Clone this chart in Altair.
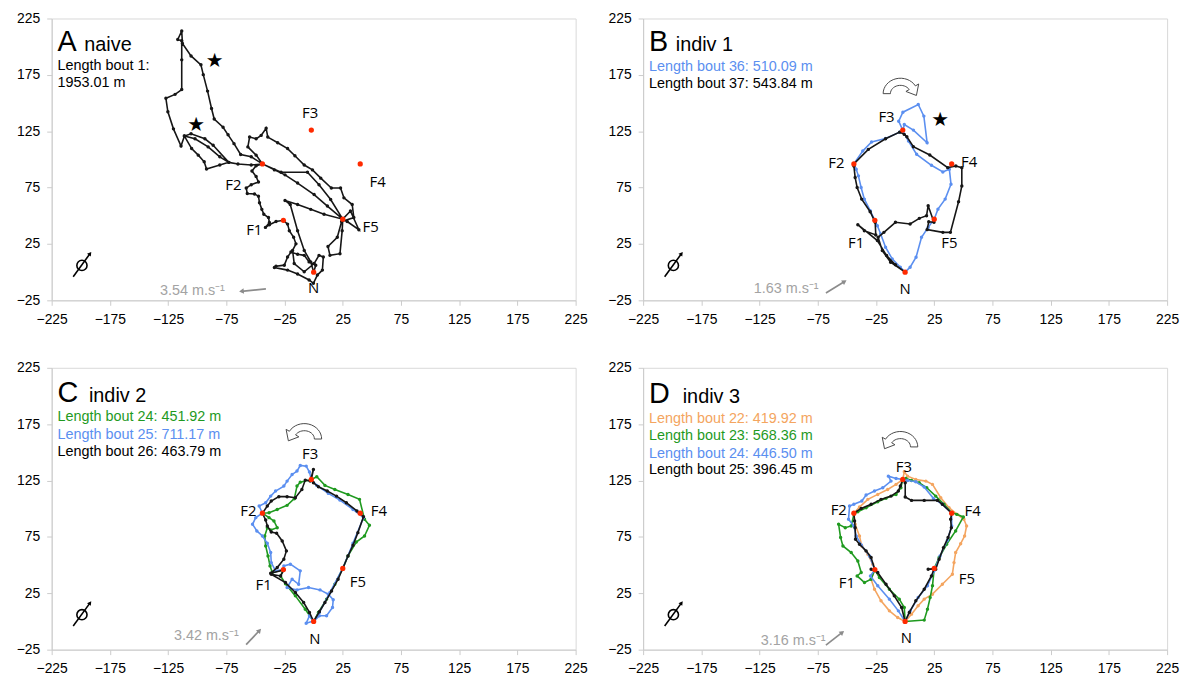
import altair as alt
import pandas as pd

# ---------------- data (metres) ----------------
FEEDER_NAMES = ["N", "F1", "F2", "F3", "F4", "F5"]
FEEDER_X = [0, -26, -44, -2, 40, 25]
FEEDER_Y = [0, 46, 96, 126, 96, 47]

A_BOUT1 = [(0,0),(1.8,6.2),(-3.9,9.1),(-8.1,14.9),(-13.8,15.8),(-19.5,17.8),(-22.4,13.4),(-25.2,6.2),(-32.3,5.3),(-33.7,4.1),(-22.4,1.8),(-13.8,-1.7),(-3.9,-6.9),(-0.2,-9.9),(3.2,-2.6),(7.5,1.8),(8.3,13.4),(4.6,14.9),(0.4,7.6),(-8.1,0.3),(-16.7,7.6),(-18.1,19.3),(-15.2,25.1),(-17.2,30.9),(-20.9,36.8),(-22.4,42.6),(-26,46),(-32.3,44.9),(-38,42),(-41.4,39.7),(-38,44),(-38.8,48.4),(-42.8,51.3),(-44.5,55.7),(-46.5,61.5),(-47.4,67.4),(-50.8,69.4),(-57,69.7),(-57.9,74.6),(-53.6,77.6),(-47.4,79.9),(-49.4,84.8),(-53,89.8),(-49.4,94.4),(-44,96),(-53.6,95),(-65,95.9),(-72.9,97.4),(-80.6,95),(-92,91.5),(-94,97.9),(-99.1,103.8),(-104.8,109.6),(-111,120.7),(-101.9,118.3),(-90.6,111.1),(-80.6,102.3),(-72.9,97.4),(-86.3,112.5),(-93.4,118.3),(-105.3,122.7),(-111,120.7),(-113.9,111.9),(-120.4,127.1),(-125.2,142.2),(-126.9,154.2),(-119,157.7),(-113.3,162),(-113.3,188.3),(-113.3,205.2),(-116.7,206.4),(-113.3,213.9),(-112.7,202.9),(-105.3,191.8),(-96.8,183.9),(-94.8,175.2),(-91.1,160.6),(-87.7,145.2),(-85.4,135.8),(-77.8,128.5),(-73.5,121.8),(-68.4,114),(-62.7,104.4),(-53.6,102.3),(-44,96),(-33.7,90.7),(-24.6,86.3),(-13.8,79),(0.4,68.8),(11.8,58.6),(25,47),(24.5,36.8),(22.6,16.4),(14,14.9),(12.3,22.8),(20.3,30.9),(24,44.9),(34.5,48.4),(33.1,60),(26,65.9),(23.1,74.6),(15.2,74.6),(6.1,83.4),(-1,90.7),(-8.1,95),(-16.1,103.2),(-22.4,109.6),(-30.9,114.8),(-39.4,119.8),(-40.8,127.7),(-45.1,121.3),(-49.4,118.3),(-55,119.8),(-56.5,111.1),(-49.4,103.8),(-44,96),(-28,88.6),(-5.3,88.6),(4.6,77.6),(14.6,64.4),(25,47),(28.8,44.9),(38.8,37.6),(31.6,54.2),(25,47),(8.9,51.3),(-2.5,55.7),(-13.8,60),(-24.6,63.6),(-20.1,60),(-13.8,36.8),(-8.1,19.3),(-2.5,9.1),(0,0)]

B_BOUT36 = [(0,0),(-4.1,4.4),(-11.1,11.8),(-16.8,22.1),(-21,33.9),(-23.8,41.2),(-26,46),(-30,54.5),(-35,64.8),(-37.8,75.1),(-40.1,85.4),(-42,91.3),(-44,96),(-36.4,107.4),(-28.8,115.4),(-16.8,118.6),(-4.7,124.2),(-2,126),(-5.5,133.9),(-1.9,141.9),(11.3,148.7),(16.1,138.4),(18.9,114.8),(7.1,126),(-0.7,131),(-1.9,125.1),(2.9,116.3),(9.9,104.5),(22.6,94.8),(32.4,88.9),(38,91.3),(39.4,78),(34.4,64.8),(28.2,55.9),(25,47),(19.8,39.7),(14.1,30.9),(9.4,13.2),(4.3,4.4),(0,0)]
B_BOUT37 = [(0,0),(-8.3,6.5),(-15.9,14.7),(-23.8,28),(-40.6,42.1),(-35,36.8),(-25.2,33),(-25.7,44.2),(-30,53.6),(-37.3,64.8),(-41.2,75.1),(-42.9,83.9),(-44,94.2),(-44,96),(-31.6,108.9),(-16.8,118.3),(-4.7,124.2),(-0.7,122.2),(1.5,120.1),(7.1,111.3),(21.2,103.9),(36.6,92.7),(43.6,94.2),(48.7,92.7),(48.7,76.5),(45.9,62.4),(38.9,35.3),(32.4,35.3),(18.9,37.7),(20.3,44.7),(24.8,44.2),(19.8,58.9),(18.4,50),(12.2,47.7),(4.3,42.7),(-8.3,44.2),(-18.2,35.3),(-23.2,30.9),(-19.6,19.1),(-12.5,8.8),(0,0)]

C_BOUT24 = [(0,0),(4.1,8),(11.1,19.8),(18.2,33),(25,47),(29.5,58.1),(36.6,70.5),(43.7,75.8),(47.9,85.3),(43.7,90.6),(39.4,108.3),(29.5,112.7),(18.2,117.1),(9.7,120.7),(2.7,128.4),(-2,126),(-11.5,123.6),(-14.3,120.1),(-16.6,108.9),(-22.8,103),(-31.3,99.4),(-38.3,96.5),(-44,96),(-38.3,92.1),(-34.1,89.1),(-31.3,83.2),(-36.9,81.1),(-39.8,83.2),(-42,75.8),(-41.2,67),(-39.2,58.1),(-37.5,49.3),(-35.5,43.4),(-26,46),(-28.4,40.4),(-24.2,33.5),(-15.7,22.7),(-7.2,10.9),(0,0)]
C_BOUT25 = [(0,0),(4.9,8),(14,25.7),(25,47),(33.8,69.3),(42.8,92.1),(33.8,99.4),(22.5,107.7),(12.6,113.6),(2.7,120.7),(-2,126),(-3.6,132.5),(-6.4,137.8),(-11.5,138.4),(-14.3,133.4),(-18.5,130.4),(-22.8,124.5),(-25.6,120.1),(-32.7,115.7),(-36.9,111.2),(-41.2,105.3),(-46.8,102.4),(-44,96),(-49.7,92.1),(-52.5,86.2),(-48.8,80.3),(-44,75.8),(-39.8,69.3),(-36.9,61.1),(-36.4,52.2),(-32.7,44.9),(-26,46),(-25.6,49.3),(-20,50.8),(-11.5,44.9),(-12.9,33),(-18.5,37.5),(-22.8,30.1),(-14.3,28),(-4.4,30.1),(5.5,28),(12.6,24.2),(16.8,19.2),(16.2,12.4),(11.1,5),(4.9,5),(0.4,0.6),(-6.4,-1.5),(-3.6,5),(0,0)]
C_BOUT26 = [(0,0),(4.9,8.6),(9.7,16.8),(15.4,27.1),(21,37.5),(25,47),(29.5,58.1),(33.8,67.6),(38,78.8),(42.8,92.9),(37.2,98),(28.1,105.3),(19.6,111.2),(11.7,115.7),(4.1,119.5),(-0.2,123),(-2,126),(-0.2,134.8),(-3,124.5),(-7.2,125.4),(-10.1,117.1),(-15.7,109.8),(-22.8,110.7),(-29.9,110.7),(-36.4,106.8),(-39.8,102.4),(-44,96),(-41.2,90),(-39.8,84.7),(-36.4,79.4),(-31.8,78.2),(-27,71.4),(-23.4,62.6),(-25.6,55.2),(-31.3,47.8),(-36.9,42.8),(-25.6,45.7),(-28.4,40.4),(-36.4,41.9),(-24.2,34.5),(-15.7,25.7),(-8.6,16.8),(-3.6,8),(0,0)]

D_BOUT22 = [(0,0),(5.5,6.5),(11.2,13.9),(16.4,19.8),(23.5,24.2),(32,33),(40.6,41.9),(42,52.2),(43.4,61.1),(47.7,69),(51.1,75.8),(52.8,84.7),(50.5,90.6),(44.8,95),(37.7,100.9),(30.6,109.8),(23.5,121.6),(17.8,124.5),(9.2,126),(2.1,128.9),(-0.7,132.8),(-2,126),(-7.8,121.6),(-15,117.1),(-23.5,112.7),(-32,108.3),(-39.2,101.5),(-44,96),(-42.9,86.2),(-39.2,75.8),(-37.2,67),(-32,59.6),(-27.8,50.8),(-26,46),(-29.2,37.5),(-26.3,28.6),(-20.7,18.3),(-13.5,9.4),(-6.4,3.5),(0,0)]
D_BOUT23 = [(0,0),(16.4,1.2),(19.2,10.9),(21.5,21.2),(23.5,31.6),(25,47),(29.2,56.7),(35.7,68.5),(43.4,80.3),(50,92.7),(44.3,95),(40,96.5),(33.4,103.9),(26.3,111.2),(18.6,118.6),(12.1,123),(5.5,125.1),(0.7,126.9),(-2,126),(-3.6,118.6),(-7.8,112.7),(-16.4,109.2),(-23.5,106.2),(-33.5,100.9),(-40.6,97.4),(-44,95),(-46.3,84.7),(-51.4,83.2),(-57.1,86.2),(-55.4,74.4),(-53.4,67),(-46.3,61.1),(-40.6,53.7),(-37.7,43.4),(-41.2,40.4),(-34.9,34.5),(-29.2,37.5),(-26,46),(-22.1,38.9),(-13.5,28.6),(-5,19.8),(-0.7,12.4),(0,0)]
D_BOUT24 = [(0,0),(4.4,9.4),(11.2,21.2),(19.2,31.6),(24.9,44.9),(30,58.1),(36.3,72),(40,84.7),(40,96),(32,103.9),(24.3,109.2),(16.4,119.2),(9.2,123.9),(2.1,125.1),(-2,126),(-7.8,126.9),(-14.4,128.9),(-12.1,124.5),(-19.2,118.6),(-26.3,115.7),(-33.5,112.1),(-37.2,106.8),(-44,103.9),(-47.7,102.4),(-48.6,90.6),(-44,84.7),(-42,75.8),(-37.7,67.9),(-30.6,58.1),(-26,46),(-29.8,40.4),(-23.5,31.6),(-13.5,19.8),(-5.8,9.4),(0,0)]
D_BOUT25 = [(0,0),(3.6,8),(9.2,18.3),(16.4,28.6),(22.6,40.4),(25,47),(19.8,46.3),(26.3,46.3),(29.2,55.2),(32.9,65.5),(36.9,74.4),(39.7,83.2),(39.1,90.6),(40,96),(32,103.9),(27.8,107.4),(16.4,107.4),(5.5,107.4),(0.1,110.4),(0.1,123),(-2,126),(-4.1,120.1),(-5.8,115.7),(-12.1,111.2),(-20.7,108.3),(-29.2,103.9),(-37.7,100.3),(-44,96),(-43.4,89.1),(-42.9,83.2),(-42.6,72.9),(-39.2,68.5),(-33.5,62.6),(-29.2,56.7),(-26,46),(-29.2,46.3),(-23.5,43.4),(-16.4,33),(-9.3,22.7),(-3,12.4),(0,0)]

# feeder label positions per panel (x, y)
LABELS_A = [(0,-14),(-51,37),(-69,77),(-3,141),(55,80),(49,40)]
LABELS_B = [(0,-15),(-42,26),(-59,97),(-16,138),(55,98),(38,26)]
LABELS_C = [(1,-15.5),(-43,32),(-56,98),(-3,148.5),(56,98),(38,35)]
LABELS_D = [(1,-14.5),(-50,34),(-57,99),(-1,137),(58,98),(53,38)]

STARS_A = [(-85,187.5),(-101,130.5)]
STARS_B = [(30,134.5)]

X_TICKS = [-225, -175, -125, -75, -25, 25, 75, 125, 175, 225]
Y_TICKS = [-25, 25, 75, 125, 175, 225]

BLACK = "#161616"
BLUE = "#5b8ff0"
GREEN = "#1f9a1f"
ORANGE = "#f4a560"
RED = "#ff2a00"
GREY = "#a3a3a3"

# hollow curved-arrow symbols (shape styles, unit box -1..1)
CURL_CW = ("M -0.95 0.35 A 0.95 0.85 0 0 1 0.82 -0.075 L 1.0 -0.18 L 0.875 0.45 "
           "L 0.3 0.23 L 0.48 0.125 A 0.55 0.45 0 0 0 -0.55 0.35 Z")
CURL_CCW = ("M 0.95 0.35 A 0.95 0.85 0 0 0 -0.82 -0.075 L -1.0 -0.18 L -0.875 0.45 "
            "L -0.3 0.23 L -0.48 0.125 A 0.55 0.45 0 0 1 0.55 0.35 Z")

X = alt.X("x:Q", scale=alt.Scale(domain=[-225, 225], nice=False, zero=False),
          axis=alt.Axis(values=X_TICKS, format="d", labelFlush=False), title=None)
Y = alt.Y("y:Q", scale=alt.Scale(domain=[-25, 225], nice=False, zero=False),
          axis=alt.Axis(values=Y_TICKS, format="d", labelFlush=False), title=None)


def frame(rows, cols):
    return pd.DataFrame(rows, columns=cols)


def track(seq, color):
    df = pd.DataFrame({"x": [p[0] for p in seq], "y": [p[1] for p in seq],
                       "i": list(range(len(seq)))})
    line = alt.Chart(df).mark_line(color=color, strokeWidth=1.6).encode(x=X, y=Y, order="i:Q")
    dots = alt.Chart(df).mark_circle(color=color, size=12, opacity=1).encode(x=X, y=Y)
    return [line, dots]


def text_layer(rows, **kw):
    df = frame(rows, ["x", "y", "t", "c"])
    return alt.Chart(df).mark_text(**kw).encode(
        x=X, y=Y, text="t:N", color=alt.Color("c:N", scale=None))


def arrow(x1, y1, x2, y2, ang, color, width, head):
    df = frame([(x1, y1, x2, y2)], ["x", "y", "x2", "y2"])
    rule = alt.Chart(df).mark_rule(color=color, strokeWidth=width).encode(
        x=X, y=Y, x2="x2:Q", y2="y2:Q")
    tip = alt.Chart(frame([(x2, y2)], ["x", "y"])).mark_point(
        shape="triangle-up", filled=True, color=color, size=head, angle=ang, opacity=1
    ).encode(x=X, y=Y)
    return [rule, tip]


def panel(letter, rest, rest_x, title_y, lines, series, labels, stars, curl, wind):
    layers = []
    # male / orientation symbol
    layers.append(alt.Chart(frame([(-199, 6)], ["x", "y"])).mark_point(
        shape="circle", filled=False, color="black", size=105, strokeWidth=1.6, opacity=1
    ).encode(x=X, y=Y))
    layers += arrow(-206.5, -4, -192, 16.5, 36, "black", 1.6, 22)
    # wind arrow and speed text
    wtext, wx, wy, ax1, ay1, ax2, ay2, ang = wind
    layers.append(text_layer([(wx, wy, wtext, GREY)], align="left", baseline="middle",
                             font="Liberation Sans", fontSize=14.5))
    layers += arrow(ax1, ay1, ax2, ay2, ang, "#8c8c8c", 1.7, 30)
    # trajectories
    for seq, color in series:
        layers += track(seq, color)
    # feeders
    fdf = pd.DataFrame({"x": FEEDER_X, "y": FEEDER_Y})
    layers.append(alt.Chart(fdf).mark_circle(color=RED, size=28, opacity=1).encode(x=X, y=Y))
    layers.append(text_layer([(p[0], p[1], n, "black") for p, n in zip(labels, FEEDER_NAMES)],
                             align="center", baseline="middle", font="Open Sans", fontSize=15))
    if stars:
        layers.append(text_layer([(s[0], s[1], "★", "black") for s in stars],
                                 align="center", baseline="middle", font="DejaVu Sans",
                                 fontSize=20))
    if curl:
        cx, cy, shape = curl
        layers.append(alt.Chart(frame([(cx, cy)], ["x", "y"])).mark_point(
            shape=shape, fill="white", stroke="#4a4a4a", strokeWidth=1.0,
            size=1350, opacity=1, fillOpacity=1
        ).encode(x=X, y=Y))
    # titles and lengths
    layers.append(text_layer([(-220, title_y, letter, "black")], align="left",
                             baseline="alphabetic", font="Liberation Sans", fontSize=29))
    layers.append(text_layer([(rest_x, title_y, rest, "black")], align="left",
                             baseline="alphabetic", font="Liberation Sans", fontSize=20))
    layers.append(text_layer([(-220, y, t, c) for t, c, y in lines], align="left",
                             baseline="middle", font="Liberation Sans", fontSize=14.5))
    return alt.layer(*layers).properties(width=528, height=284)


pA = panel("A", "naive", -197, 196.5,
           [("Length bout 1:", "black", 183), ("1953.01 m", "black", 168)],
           [(A_BOUT1, BLACK)], LABELS_A, STARS_A, None,
           ("3.54 m.s⁻¹", -132, -17, -41, -14.8, -62, -17, 264))
pB = panel("B", "indiv 1", -197, 196.5,
           [("Length bout 36: 510.09 m", BLUE, 182), ("Length bout 37: 543.84 m", "black", 166.5)],
           [(B_BOUT36, BLUE), (B_BOUT37, BLACK)], LABELS_B, STARS_B, (-4, 164, CURL_CW),
           ("1.63 m.s⁻¹", -130, -15, -68, -18.5, -52, -8.3, 57))
pC = panel("C", "indiv 2", -193, 195,
           [("Length bout 24: 451.92 m", GREEN, 181.3), ("Length bout 25: 711.17 m", BLUE, 165.8),
            ("Length bout 26: 463.79 m", "black", 150.4)],
           [(C_BOUT24, GREEN), (C_BOUT25, BLUE), (C_BOUT26, BLACK)], LABELS_C, None,
           (-8, 167.5, CURL_CCW),
           ("3.42 m.s⁻¹", -120, -13, -58, -20.6, -46.5, -8, 42))
pD = panel("D", "indiv 3", -191, 194,
           [("Length bout 22: 419.92 m", ORANGE, 179.5), ("Length bout 23: 568.36 m", GREEN, 164.3),
            ("Length bout 24: 446.50 m", BLUE, 148.7), ("Length bout 25: 396.45 m", "black", 134)],
           [(D_BOUT22, ORANGE), (D_BOUT23, GREEN), (D_BOUT24, BLUE), (D_BOUT25, BLACK)],
           LABELS_D, None, (-4, 160.5, CURL_CCW),
           ("3.16 m.s⁻¹", -124, -17, -68, -21, -54, -9.7, 51))

chart = alt.vconcat(
    alt.hconcat(pA, pB, spacing=18),
    alt.hconcat(pC, pD, spacing=18),
    spacing=33,
).properties(
    padding={"left": 7, "top": 0, "right": 0, "bottom": 0}
).configure_view(
    stroke="#d9d9d9", strokeWidth=1
).configure_axis(
    labelFont="Liberation Sans", labelFontSize=14, labelColor="#000000",
    domainColor="#cccccc", tickColor="#cccccc", tickSize=5, labelPadding=7, grid=False
)

chart.save("out.html", embed_options={"renderer": "svg", "actions": False})
